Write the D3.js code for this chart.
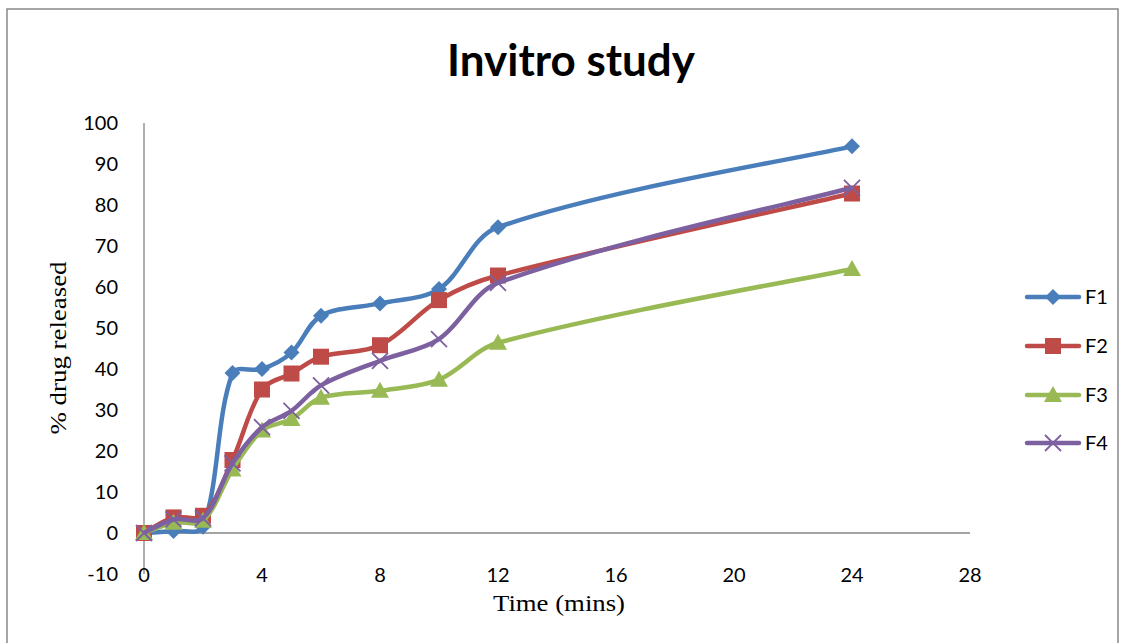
<!DOCTYPE html>
<html>
<head>
<meta charset="utf-8">
<script src="https://cdn.jsdelivr.net/npm/d3@7"></script>
<style>
  body { margin: 0; background: #fff; }
  svg { display: block; }
</style>
</head>
<body>
<svg id="chart" width="1125" height="643"></svg>
<script>
// time points (mins) and % drug released per formulation
const times = [0, 1, 2, 3, 4, 5, 6, 8, 10, 12, 24];
const f1 = [0, 0.5, 1.5, 39, 40, 44, 53, 56, 59.5, 74.6, 94.3];
const f2 = [0, 3.8, 4.2, 17.8, 35, 38.9, 43, 45.8, 56.8, 62.8, 82.8];
const f3 = [0, 2.5, 3, 15.5, 25, 27.8, 33, 34.7, 37.4, 46.4, 64.4];
const f4 = [0, 3.3, 3.6, 17, 25.8, 29.8, 36, 42, 47.3, 61, 84.2];
const seriesNames = ['F1', 'F2', 'F3', 'F4'];
const xTicks = [0, 4, 8, 12, 16, 20, 24, 28];
const yTicks = [-10, 0, 10, 20, 30, 40, 50, 60, 70, 80, 90, 100];

const colors = ['#4a7ebb', '#be4b48', '#98b954', '#7d60a0'];
const markers = ['diamond', 'square', 'triangle', 'cross'];

const svg = d3.select('#chart');

// outer frame
svg.append('rect')
  .attr('x', 7).attr('y', 9)
  .attr('width', 1111).attr('height', 660)
  .attr('fill', 'none')
  .attr('stroke', '#888')
  .attr('stroke-width', 1.5);

const x = d3.scaleLinear().domain([0, 28]).range([144, 970]);
const y = d3.scaleLinear().domain([-10, 100]).range([574, 123]);

// title, fitted to the reference width
const title = svg.append('text')
  .attr('x', 571).attr('y', 76)
  .attr('text-anchor', 'middle')
  .attr('font-family', 'Lato, "Open Sans", sans-serif')
  .attr('font-weight', 'bold')
  .attr('font-size', 40)
  .text('Invitro study');
const tw = title.node().getComputedTextLength();
title.attr('font-size', 40 * 248 / tw);

// axes
const axisColor = '#868686';
svg.append('line')
  .attr('x1', x(0)).attr('x2', x(0))
  .attr('y1', y(100)).attr('y2', y(-10))
  .attr('stroke', axisColor).attr('stroke-width', 1.3);
svg.append('line')
  .attr('x1', x(0)).attr('x2', x(28))
  .attr('y1', y(0)).attr('y2', y(0))
  .attr('stroke', axisColor).attr('stroke-width', 1.3);

const tickFont = 'Lato, "Open Sans", sans-serif';
svg.append('g').selectAll('text')
  .data(yTicks)
  .join('text')
    .attr('x', 118)
    .attr('y', d => y(d))
    .attr('dy', '0.35em')
    .attr('text-anchor', 'end')
    .attr('font-family', tickFont)
    .attr('font-size', 20)
    .text(d => d);

svg.append('g').selectAll('text')
  .data(xTicks)
  .join('text')
    .attr('x', d => x(d))
    .attr('y', 582)
    .attr('text-anchor', 'middle')
    .attr('font-family', tickFont)
    .attr('font-size', 20)
    .text(d => d);

// axis titles
const serif = '"Liberation Serif", "Times New Roman", serif';
svg.append('text')
  .attr('x', 559).attr('y', 611)
  .attr('text-anchor', 'middle')
  .attr('font-family', serif)
  .attr('font-size', 24)
  .attr('textLength', 132)
  .attr('lengthAdjust', 'spacingAndGlyphs')
  .text('Time (mins)');

svg.append('text')
  .attr('transform', 'translate(66,348) rotate(-90)')
  .attr('text-anchor', 'middle')
  .attr('font-family', serif)
  .attr('font-size', 24)
  .attr('textLength', 173)
  .attr('lengthAdjust', 'spacingAndGlyphs')
  .text('% drug released');

// series
const allSeries = [f1, f2, f3, f4].map((vals, i) => ({
  name: seriesNames[i],
  color: colors[i],
  marker: markers[i],
  points: vals.map((v, j) => ({ t: times[j], v: v }))
}));

// spreadsheet-style smoothing: bezier handles split by neighbouring segment lengths
const smoothPath = pts => {
  const p = pts.map(d => [x(d.t), y(d.v)]);
  const n = p.length;
  const dist = (a, b) => Math.hypot(b[0] - a[0], b[1] - a[1]);
  const tangent = i => {
    const a = p[Math.max(i - 1, 0)], b = p[Math.min(i + 1, n - 1)];
    return [b[0] - a[0], b[1] - a[1]];
  };
  const path = d3.path();
  path.moveTo(p[0][0], p[0][1]);
  for (let i = 0; i < n - 1; i++) {
    const dPrev = i > 0 ? dist(p[i - 1], p[i]) : 0;
    const dCur = dist(p[i], p[i + 1]);
    const dNext = i + 2 < n ? dist(p[i + 1], p[i + 2]) : 0;
    const t0 = tangent(i), t1 = tangent(i + 1);
    const k0 = (i > 0 ? dCur / (dPrev + dCur) : 0.5) / 3;
    const k1 = (i + 2 < n ? dCur / (dCur + dNext) : 0.5) / 3;
    path.bezierCurveTo(
      p[i][0] + t0[0] * k0, p[i][1] + t0[1] * k0,
      p[i + 1][0] - t1[0] * k1, p[i + 1][1] - t1[1] * k1,
      p[i + 1][0], p[i + 1][1]
    );
  }
  return path.toString();
};

const drawMarker = (g, type, cx, cy, color) => {
  if (type === 'diamond') {
    g.append('path')
      .attr('d', `M${cx},${cy - 8}L${cx + 8},${cy}L${cx},${cy + 8}L${cx - 8},${cy}Z`)
      .attr('fill', color);
  } else if (type === 'square') {
    g.append('rect')
      .attr('x', cx - 8).attr('y', cy - 8)
      .attr('width', 16).attr('height', 16)
      .attr('fill', color);
  } else if (type === 'triangle') {
    g.append('path')
      .attr('d', `M${cx},${cy - 9}L${cx + 9},${cy + 7}L${cx - 9},${cy + 7}Z`)
      .attr('fill', color);
  } else {
    g.append('path')
      .attr('d', `M${cx - 8},${cy - 8}L${cx + 8},${cy + 8}M${cx + 8},${cy - 8}L${cx - 8},${cy + 8}`)
      .attr('stroke', color)
      .attr('stroke-width', 1.8);
  }
};

allSeries.forEach(s => {
  const g = svg.append('g');
  g.append('path')
    .attr('d', smoothPath(s.points))
    .attr('fill', 'none')
    .attr('stroke', s.color)
    .attr('stroke-width', 4.5)
    .attr('stroke-linejoin', 'round');
  s.points.forEach(p => drawMarker(g, s.marker, x(p.t), y(p.v), s.color));
});

// legend
const legendY = [297, 346, 395, 443];
allSeries.forEach((s, i) => {
  const g = svg.append('g');
  g.append('line')
    .attr('x1', 1027).attr('x2', 1079)
    .attr('y1', legendY[i]).attr('y2', legendY[i])
    .attr('stroke', s.color)
    .attr('stroke-width', 4.5)
    .attr('stroke-linecap', 'round');
  drawMarker(g, s.marker, 1053, legendY[i], s.color);
  g.append('text')
    .attr('x', 1085).attr('y', legendY[i])
    .attr('dy', '0.35em')
    .attr('font-family', tickFont)
    .attr('font-size', 20)
    .text(s.name);
});
</script>
</body>
</html>
